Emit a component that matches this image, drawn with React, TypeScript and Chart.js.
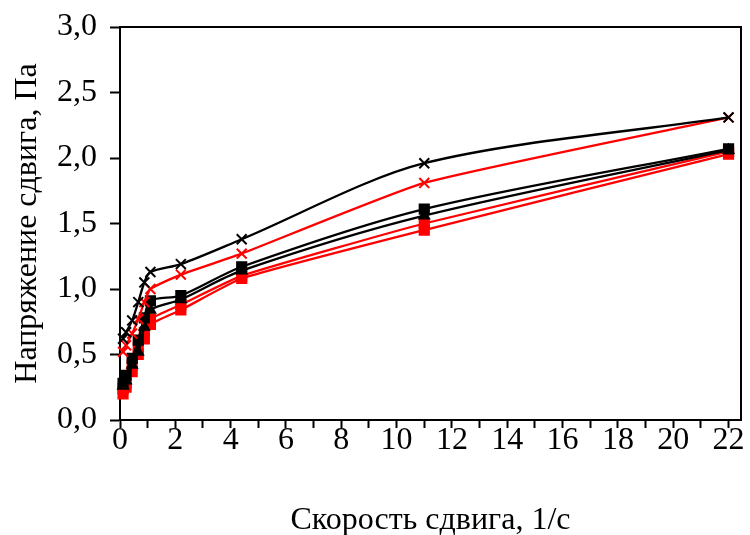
import React, { useEffect, useRef } from "react";
import { Chart, registerables } from "chart.js";

Chart.register(...registerables);

const shearRate = [0.11, 0.22, 0.44, 0.66, 0.88, 1.1, 2.2, 4.4, 11, 22];
const seriesBlackCross = [0.62, 0.67, 0.76, 0.9, 1.05, 1.13, 1.19, 1.38, 1.96, 2.31];
const seriesRedCross = [0.52, 0.57, 0.66, 0.77, 0.9, 1.0, 1.11, 1.27, 1.81, 2.31];
const seriesBlackSquare = [0.28, 0.34, 0.47, 0.61, 0.78, 0.91, 0.95, 1.17, 1.61, 2.07];
const seriesBlackTriangle = [0.26, 0.3, 0.42, 0.52, 0.71, 0.84, 0.92, 1.14, 1.56, 2.06];
const seriesRedSquare = [0.24, 0.28, 0.42, 0.55, 0.67, 0.77, 0.88, 1.1, 1.5, 2.05];
const seriesRedSquare2 = [0.2, 0.25, 0.37, 0.5, 0.62, 0.73, 0.84, 1.08, 1.45, 2.03];

const xTitle = "Скорость сдвига, 1/с";
const yTitle = "Напряжение сдвига, Па";

const FONT = "'Liberation Serif', 'Times New Roman', serif";
const FS = 32;

function pts(ys: number[]) {
  return ys.map((y, i) => ({ x: shearRate[i], y }));
}

const frame = {
  id: "frame",
  afterDatasetsDraw(chart: any) {
    const { ctx, chartArea } = chart;
    ctx.save();
    ctx.strokeStyle = "#000";
    ctx.lineWidth = 2;
    ctx.beginPath();
    ctx.moveTo(chartArea.left, chartArea.top);
    ctx.lineTo(chartArea.right, chartArea.top);
    ctx.lineTo(chartArea.right, chartArea.bottom);
    ctx.stroke();
    ctx.restore();
  },
};

export default function App() {
  const ref = useRef<HTMLCanvasElement | null>(null);
  useEffect(() => {
    document.body.style.margin = "0";
    const canvas = ref.current!;
    const mk = (label: string, ys: number[], color: string, style: any, radius: number, tension: number) => ({
      label,
      data: pts(ys),
      borderColor: color,
      backgroundColor: color,
      pointBorderColor: color,
      pointBackgroundColor: color,
      pointStyle: style,
      pointRadius: radius,
      pointBorderWidth: 2,
      borderWidth: 2.3,
      tension,
      clip: false as any,
    });
    const chart = new Chart(canvas, {
      type: "line",
      data: {
        datasets: [
          mk("s1", seriesBlackCross, "#000000", "crossRot", 7, 0.3),
          mk("s2", seriesRedCross, "#ff0000", "crossRot", 7, 0.15),
          mk("s3", seriesBlackSquare, "#000000", "rect", 6.5, 0.3),
          mk("s4", seriesBlackTriangle, "#000000", "triangle", 5.5, 0.3),
          mk("s5", seriesRedSquare, "#ff0000", "rect", 6.5, 0.15),
          mk("s6", seriesRedSquare2, "#ff0000", "rect", 6.5, 0.15),
        ],
      },
      options: {
        responsive: false,
        animation: false,
        layout: { padding: { left: 0, right: 4, top: 27, bottom: 0 } },
        plugins: { legend: { display: false }, tooltip: { enabled: false } },
        scales: {
          x: {
            type: "linear",
            min: 0,
            max: 22.45,
            afterFit(s: any) {
              s.height = 115;
              s.paddingLeft = 0;
              s.paddingRight = 0;
            },
            ticks: {
              stepSize: 1,
              includeBounds: false,
              autoSkip: false,
              maxRotation: 0,
              padding: -7,
              color: "#000",
              font: { family: FONT, size: FS },
              callback: (v: any) => (Math.round(v) % 2 === 0 ? String(Math.round(v)) : ""),
            },
            grid: { drawOnChartArea: false, drawTicks: true, tickLength: 8, tickWidth: 2, tickColor: "#000" },
            border: { display: true, color: "#000", width: 2 },
            title: {
              display: true,
              text: xTitle,
              color: "#000",
              font: { family: FONT, size: FS },
              padding: { top: 0, bottom: -5 },
            },
          },
          y: {
            type: "linear",
            min: 0,
            max: 3,
            afterFit(s: any) {
              s.width = 120;
              s.paddingTop = 0;
              s.paddingBottom = 0;
            },
            ticks: {
              stepSize: 0.5,
              padding: 13,
              color: "#000",
              font: { family: FONT, size: FS },
              callback: (v: any) => Number(v).toFixed(1).replace(".", ","),
            },
            grid: { drawOnChartArea: false, drawTicks: true, tickLength: 10, tickWidth: 2, tickColor: "#000" },
            border: { display: true, color: "#000", width: 2 },
            title: {
              display: true,
              text: yTitle,
              color: "#000",
              font: { family: FONT, size: FS },
              padding: { top: 8, bottom: 0 },
            },
          },
        },
      },
      plugins: [frame],
    });
    return () => chart.destroy();
  }, []);
  return <canvas ref={ref} width={750} height={535} style={{ display: "block" }} />;
}
